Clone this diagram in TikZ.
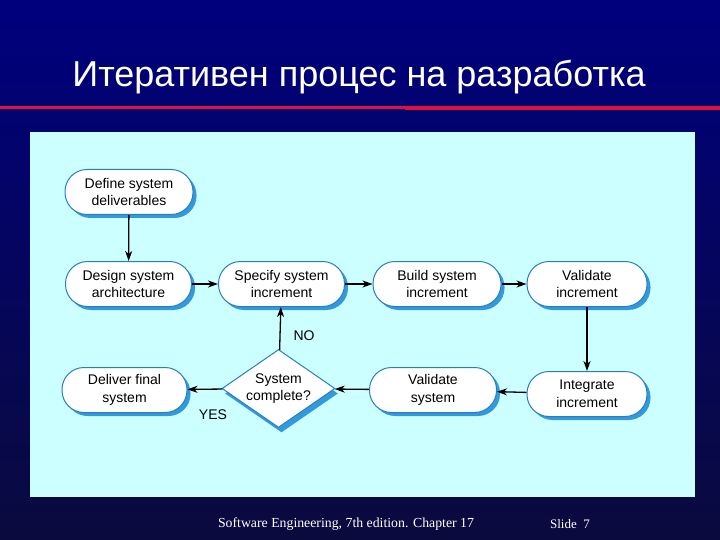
\documentclass[tikz,border=0pt]{standalone}
\usepackage{fontspec}
\setmainfont{Liberation Sans}
\newfontfamily\footfont{Liberation Serif}
\usetikzlibrary{shapes.geometric,arrows.meta,shadows}
\definecolor{bgtop}{HTML}{00007E}
\definecolor{bgbot}{HTML}{0A0A3E}
\definecolor{panel}{HTML}{CCFFFF}
\definecolor{edgeblue}{HTML}{2A7EC0}
\definecolor{shadeblue}{HTML}{3399DD}
\definecolor{redline}{HTML}{E0103C}
\begin{document}
\begin{tikzpicture}[x=1pt,y=-1pt,
  proc/.style={draw=edgeblue, line width=1pt, fill=white, rounded corners=22pt,
    minimum width=126pt, minimum height=45pt, inner sep=2pt, align=center,
    font=\fontsize{14}{17.5}\selectfont,
    drop shadow={shadow xshift=3.5pt, shadow yshift=-3.5pt, fill=shadeblue, opacity=1}},
  decision/.style={diamond, draw=edgeblue, line width=1pt, fill=white,
    minimum width=113pt, minimum height=78pt, inner sep=0pt,
    drop shadow={shadow xshift=3pt, shadow yshift=-5pt, fill=shadeblue, opacity=1}},
  dectext/.style={align=center, font=\fontsize{14}{17.5}\selectfont, inner sep=0pt},
  flow/.style={-{Stealth[length=10pt,width=7pt,inset=3pt]}, line width=1.3pt, black},
  lbl/.style={font=\fontsize{14}{15}\selectfont, text=black}]
\shade[top color=bgtop, bottom color=bgbot] (0,0) rectangle (720,540);
\useasboundingbox (0,0) rectangle (720,540);
\fill[redline] (0,106) rectangle (405,109.5);
\fill[redline] (405,106.5) rectangle (720,110.5);
\node[text=white, font=\fontsize{36}{40}\selectfont, anchor=base] (title) at (359,87) {Итеративен процес на разработка};
\fill[panel] (30,132) rectangle (695,497);

\node[proc, minimum width=128pt] (def) at (129,192) {Define system\\deliverables};
\node[proc] (des) at (128.5,284) {Design system\\architecture};
\node[proc] (spe) at (281.5,284) {Specify system\\increment};
\node[proc, minimum width=128pt] (bui) at (437,284) {Build system\\increment};
\node[proc, minimum width=120pt] (vin) at (587,284) {Validate\\increment};
\node[proc, minimum width=120pt] (int) at (587,394) {Integrate\\increment};
\node[proc, minimum width=127pt] (vsy) at (433,390) {Validate\\system};
\node[decision] (dec) at (278.5,388.5) {};
\node[dectext] (dect) at (dec.center) {System\\complete?};
\node[proc, minimum width=125pt] (del) at (124.5,390) {Deliver final\\system};

\draw[flow] (def) -- (des);
\draw[flow] (des) -- (spe);
\draw[flow] (spe) -- (bui);
\draw[flow] (bui) -- (vin);
\draw[flow] (vin) -- (int);
\draw[flow] (int) -- (vsy);
\draw[flow] (vsy) -- (dec);
\draw[flow] (dec) -- (del);
\draw[flow] (dec) -- (spe);
\node[lbl] (no) at (304,336) {NO};
\node[lbl] (yes) at (213,415) {YES};

\node[text=white, font=\footfont\fontsize{13.8}{15}\selectfont] (foot) at (346,524) {Software Engineering, 7th edition. Chapter 17};
\node[text=white, font=\footfont\fontsize{13}{15}\selectfont] (slide) at (570,524) {Slide\ \ 7};
\end{tikzpicture}
\end{document}
